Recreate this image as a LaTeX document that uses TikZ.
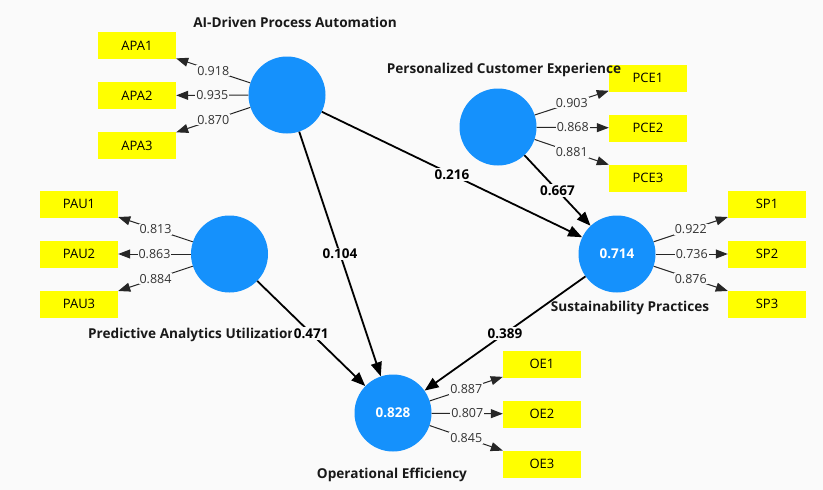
\documentclass[tikz,border=0pt]{standalone}
\usepackage{fontspec}
\setmainfont{Open Sans}
\usetikzlibrary{arrows.meta}
\definecolor{bg}{HTML}{FAFAFA}
\definecolor{lv}{HTML}{1591FC}
\definecolor{ind}{HTML}{FFFF00}
\begin{document}
\begin{tikzpicture}[x=1pt,y=-1pt,
 latent/.style={circle,fill=lv,minimum size=77pt,inner sep=0pt,text=white,font=\fontsize{13.5}{15}\selectfont\bfseries},
 indic/.style={fill=ind,minimum width=78pt,minimum height=27pt,inner sep=0pt,font=\fontsize{13}{15}\selectfont},
 ttl/.style={font=\fontsize{13.6}{15}\selectfont\bfseries,inner sep=0pt,text=black!90},
 load/.style={draw=black!85,line width=1pt,-{Triangle[length=12pt,width=9pt]}},
 loadlbl/.style={fill=bg,inner sep=1pt,font=\fontsize{12.5}{14}\selectfont,text=black!80},
 pth/.style={draw=black,line width=1.8pt,-{Triangle[length=14pt,width=11pt]}},
 pathlbl/.style={fill=bg,inner sep=1.5pt,font=\fontsize{13.5}{15}\selectfont\bfseries}]
\fill[bg] (0,0) rectangle (823,490);
\useasboundingbox (0,0) rectangle (823,490);

% latent variables
\node[latent] (APA) at (287,95) {};
\node[latent] (PCE) at (498,127) {};
\node[latent] (PAU) at (229.5,254) {};
\node[latent] (SP) at (617,254) {0.714};
\node[latent] (OE) at (393,413) {0.828};

% indicators
\node[indic] (APA1) at (137,45.5) {APA1};
\node[indic] (APA2) at (137,95.5) {APA2};
\node[indic] (APA3) at (137,145.5) {APA3};
\node[indic] (PCE1) at (648,78) {PCE1};
\node[indic] (PCE2) at (648,128) {PCE2};
\node[indic] (PCE3) at (648,178) {PCE3};
\node[indic] (PAU1) at (79,204) {PAU1};
\node[indic] (PAU2) at (79,254) {PAU2};
\node[indic] (PAU3) at (79,304) {PAU3};
\node[indic] (SP1) at (767,204) {SP1};
\node[indic] (SP2) at (767,254) {SP2};
\node[indic] (SP3) at (767,304) {SP3};
\node[indic] (OE1) at (542,364) {OE1};
\node[indic] (OE2) at (542,414) {OE2};
\node[indic] (OE3) at (542,464) {OE3};

% titles
\node[ttl] (tAPA) at (295,22) {AI-Driven Process Automation};
\node[ttl] (tPCE) at (504,70) {Personalized Customer Experience};
\node[ttl,anchor=west] (tPAU) at (88,335) {Predictive Analytics Utilization};
\node[ttl] (tSP) at (630,308) {Sustainability Practices};
\node[ttl] (tOE) at (392,475) {Operational Efficiency};

% outer loadings
\draw[load] (APA) -- node[loadlbl] {0.918} (APA1);
\draw[load] (APA) -- node[loadlbl] {0.935} (APA2);
\draw[load] (APA) -- node[loadlbl] {0.870} (APA3);
\draw[load] (PCE) -- node[loadlbl] {0.903} (PCE1);
\draw[load] (PCE) -- node[loadlbl] {0.868} (PCE2);
\draw[load] (PCE) -- node[loadlbl] {0.881} (PCE3);
\draw[load] (PAU) -- node[loadlbl] {0.813} (PAU1);
\draw[load] (PAU) -- node[loadlbl] {0.863} (PAU2);
\draw[load] (PAU) -- node[loadlbl] {0.884} (PAU3);
\draw[load] (SP) -- node[loadlbl] {0.922} (SP1);
\draw[load] (SP) -- node[loadlbl] {0.736} (SP2);
\draw[load] (SP) -- node[loadlbl] {0.876} (SP3);
\draw[load] (OE) -- node[loadlbl] {0.887} (OE1);
\draw[load] (OE) -- node[loadlbl] {0.807} (OE2);
\draw[load] (OE) -- node[loadlbl] {0.845} (OE3);

% path coefficients
\draw[pth] (APA) -- node[pathlbl] {0.216} (SP);
\draw[pth] (APA) -- node[pathlbl] {0.104} (OE);
\draw[pth] (PCE) -- node[pathlbl] {0.667} (SP);
\draw[pth] (PAU) -- node[pathlbl] {0.471} (OE);
\draw[pth] (SP) -- node[pathlbl] {0.389} (OE);
\end{tikzpicture}
\end{document}
